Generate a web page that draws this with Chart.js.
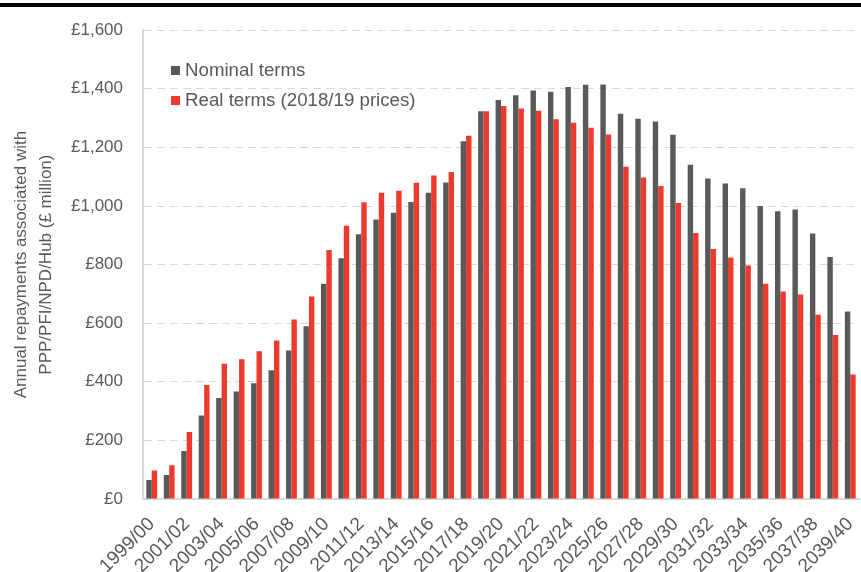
<!DOCTYPE html>
<html>
<head>
<meta charset="utf-8">
<script src="https://cdn.jsdelivr.net/npm/chart.js@4"></script>
<style>
    html, body { margin: 0; padding: 0; background: #fff; }
    #wrap { position: relative; width: 861px; height: 572px; overflow: hidden; }
    #topline { position: absolute; left: 0; top: 3px; width: 861px; height: 4px; background: #000; }
    #chartBox { position: absolute; left: 0; top: 0; width: 861px; height: 572px; }
    .legend { position: absolute; left: 171px; top: 58px; font-family: "Liberation Sans", Arial, sans-serif; font-size: 18.7px; color: #595959; }
    .legend div { height: 30px; line-height: 24px; white-space: nowrap; }
    .legend span { display: inline-block; width: 9px; height: 9px; margin-right: 5px; vertical-align: 1px; }
</style>
</head>
<body>
<div id="wrap">
    <div id="topline"></div>
    <div id="chartBox"><canvas id="repayChart" width="861" height="572"></canvas></div>
    <div class="legend">
        <div><span style="background:#595959"></span>Nominal terms</div>
        <div><span style="background:#ee3a2c"></span>Real terms (2018/19 prices)</div>
    </div>
</div>
<script>
// 年度
const years = [
    '1999/00', '2000/01', '2001/02', '2002/03', '2003/04', '2004/05', '2005/06', '2006/07',
    '2007/08', '2008/09', '2009/10', '2010/11', '2011/12', '2012/13', '2013/14', '2014/15',
    '2015/16', '2016/17', '2017/18', '2018/19', '2019/20', '2020/21', '2021/22', '2022/23',
    '2023/24', '2024/25', '2025/26', '2026/27', '2027/28', '2028/29', '2029/30', '2030/31',
    '2031/32', '2032/33', '2033/34', '2034/35', '2035/36', '2036/37', '2037/38', '2038/39',
    '2039/40'
];

// 名义值 (£ million)
const nominalTerms = [
    65, 82, 164, 285, 345, 367, 395, 439, 507, 590,
    735, 822, 904, 954, 977, 1014, 1045, 1080, 1221, 1323,
    1362, 1378, 1394, 1390, 1406, 1414, 1415, 1315, 1298, 1288,
    1243, 1141, 1094, 1077, 1061, 1000, 982, 988, 906, 826,
    640
];

// 实际值 (2018/19 prices)
const realTerms = [
    97, 115, 229, 389, 462, 477, 504, 541, 613, 691,
    850, 933, 1013, 1045, 1052, 1079, 1104, 1116, 1240, 1323,
    1341, 1333, 1325, 1296, 1284, 1267, 1244, 1134, 1097, 1068,
    1010, 908, 853, 824, 797, 735, 708, 698, 629, 560,
    425
];

// 纵轴刻度
const yTicks = [0, 200, 400, 600, 800, 1000, 1200, 1400, 1600];

const textColor = '#595959';
const gridColor = '#d9d9d9';
const fontFamily = '"Liberation Sans", Arial, sans-serif';

document.addEventListener('DOMContentLoaded', function() {
    const ctx = document.getElementById('repayChart').getContext('2d');
    window.repayChart = new Chart(ctx, {
        type: 'bar',
        data: {
            labels: years,
            datasets: [{
                label: 'Nominal terms',
                data: nominalTerms,
                backgroundColor: '#595959',
                borderWidth: 0,
                categoryPercentage: 0.62,
                barPercentage: 1.0
            }, {
                label: 'Real terms (2018/19 prices)',
                data: realTerms,
                backgroundColor: '#ee3a2c',
                borderWidth: 0,
                categoryPercentage: 0.62,
                barPercentage: 1.0
            }]
        },
        options: {
            responsive: false,
            animation: false,
            layout: {
                padding: { top: 29, right: 2, bottom: 0, left: 0 }
            },
            plugins: {
                legend: { display: false },
                tooltip: { enabled: false }
            },
            scales: {
                x: {
                    grid: { display: false },
                    border: { display: true, color: gridColor, width: 2 },
                    ticks: {
                        autoSkip: false,
                        maxRotation: 45,
                        minRotation: 45,
                        padding: 6,
                        color: textColor,
                        font: { family: fontFamily, size: 19 },
                        callback: function(value, index) {
                            return index % 2 === 0 ? years[index] : '';
                        }
                    },
                    afterFit: function(scale) {
                        scale.height = 73;
                        scale.paddingLeft = 0;
                        scale.paddingRight = 0;
                    }
                },
                y: {
                    min: 0,
                    max: 1600,
                    afterBuildTicks: function(scale) {
                        scale.ticks = yTicks.map(v => ({ value: v }));
                    },
                    grid: {
                        color: function(c) {
                            return c.tick && c.tick.value === 0 ? 'rgba(0,0,0,0)' : gridColor;
                        },
                        lineWidth: 1,
                        drawTicks: false
                    },
                    border: { display: true, color: gridColor, width: 2, dash: [8, 5] },
                    ticks: {
                        padding: 20,
                        color: textColor,
                        font: { family: fontFamily, size: 17 },
                        callback: function(value) {
                            return '£' + value.toLocaleString('en-GB');
                        }
                    },
                    title: {
                        display: true,
                        text: ['Annual repayments associated with', 'PPP/PFI/NPD/Hub (£ million)'],
                        color: textColor,
                        font: { family: fontFamily, size: 17, lineHeight: 1.45 },
                        padding: { top: 9, bottom: 0 }
                    },
                    afterFit: function(scale) {
                        scale.width = 143;
                    }
                }
            }
        }
    });
});
</script>
</body>
</html>
